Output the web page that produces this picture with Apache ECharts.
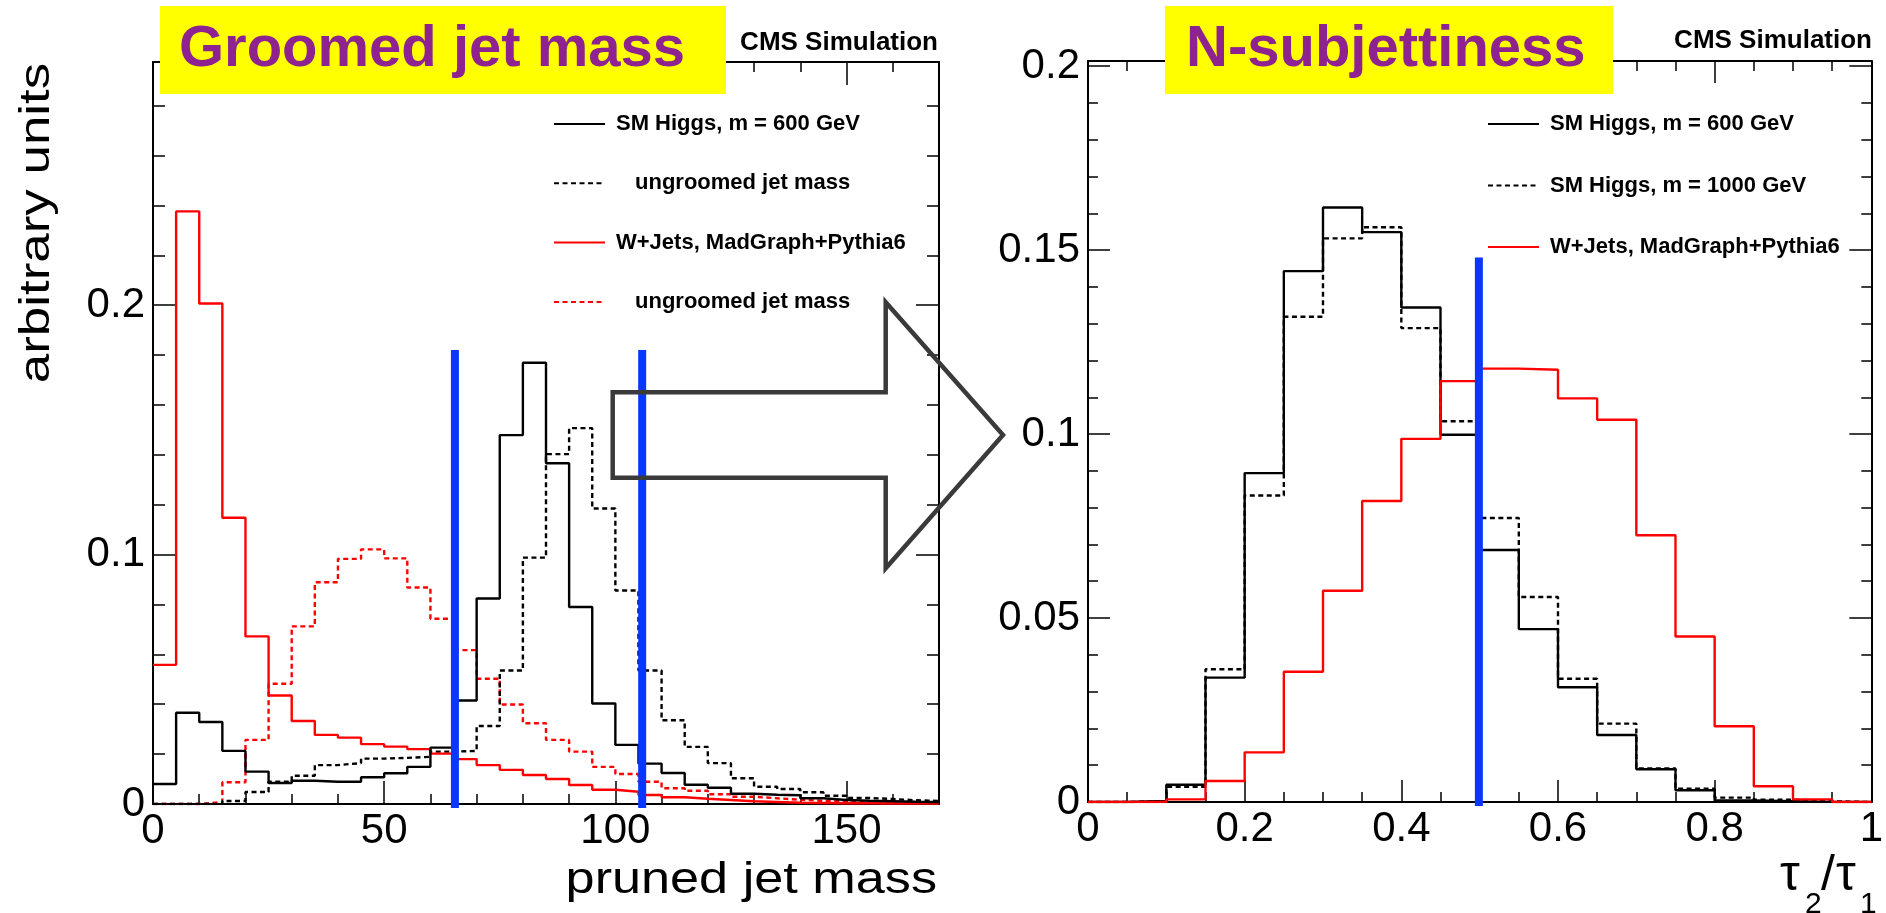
<!DOCTYPE html>
<html>
<head>
<meta charset="utf-8">
<title>Groomed jet mass / N-subjettiness</title>
<script src="https://cdn.jsdelivr.net/npm/echarts@6/dist/echarts.min.js"></script>
<style>
html, body { margin: 0; padding: 0; background: #fff; }
#chart { width: 1886px; height: 913px; }
</style>
</head>
<body>
<div id="chart"></div>
<script>
// ---- left pad: pruned jet mass, 34 bins of width 5 (0 .. 170)
const massBinWidth = 5
const higgsPruned = [0.0080, 0.0366, 0.0329, 0.0213, 0.0130, 0.0084, 0.0093, 0.0089, 0.0089, 0.0107,
  0.0123, 0.0149, 0.0226, 0.0415, 0.0824, 0.1479, 0.1769, 0.1366, 0.0790, 0.0403,
  0.0237, 0.0162, 0.0124, 0.0077, 0.0065, 0.0041, 0.0037, 0.0035, 0.0023, 0.0016,
  0.0013, 0.0011, 0.0009, 0.0008]
const higgsUngroomed = [0, 0, 0, 0.0012, 0.0048, 0.0089, 0.0113, 0.0156, 0.0164, 0.0182,
  0.0185, 0.0189, 0.0210, 0.0213, 0.0313, 0.0535, 0.0988, 0.1403, 0.1507, 0.1185,
  0.0856, 0.0535, 0.0336, 0.0229, 0.0164, 0.0103, 0.0069, 0.0060, 0.0047, 0.0033,
  0.0024, 0.0020, 0.0015, 0.0012]
const wjetsPruned = [0.0558, 0.2376, 0.2007, 0.1148, 0.0672, 0.0435, 0.0333, 0.0277, 0.0266, 0.0240,
  0.0230, 0.0220, 0.0202, 0.0180, 0.0156, 0.0137, 0.0116, 0.0100, 0.0076, 0.0057,
  0.0049, 0.0036, 0.0027, 0.0021, 0.0016, 0.0011, 0.0008, 0.0005, 0.0004, 0.0003,
  0.0003, 0.0002, 0.0002, 0.0002]
const wjetsUngroomed = [0, 0, 0.0008, 0.0087, 0.0257, 0.0482, 0.0712, 0.0889, 0.0983, 0.1021,
  0.0985, 0.0868, 0.0743, 0.0617, 0.0502, 0.0399, 0.0324, 0.0257, 0.0210, 0.0149,
  0.0120, 0.0089, 0.0063, 0.0053, 0.0039, 0.0029, 0.0023, 0.0017, 0.0013, 0.0011,
  0.0008, 0.0007, 0.0005, 0.0005]
const massCuts = [65.3, 105.8]
const massCutTop = 0.182

// ---- right pad: tau2/tau1, 20 bins of width 0.05 (0 .. 1)
const tauBinWidth = 0.05
const higgs600Tau = [0, 0.0003, 0.0047, 0.0338, 0.0894, 0.1443, 0.1616, 0.1549, 0.1344, 0.0998,
  0.0685, 0.0470, 0.0312, 0.0182, 0.0089, 0.0032, 0.0004, 0.0002, 0, 0]
const higgs1000Tau = [0, 0.0002, 0.0041, 0.0361, 0.0833, 0.1319, 0.1532, 0.1562, 0.1288, 0.1035,
  0.0772, 0.0557, 0.0335, 0.0213, 0.0091, 0.0036, 0.0012, 0.0006, 0.0002, 0]
const wjetsTau = [0, 0, 0.0007, 0.0057, 0.0135, 0.0354, 0.0574, 0.0818, 0.0987, 0.1144,
  0.1178, 0.1175, 0.1097, 0.1039, 0.0725, 0.0450, 0.0206, 0.0043, 0.0007, 0]
const tauCuts = [0.499]
const tauCutTop = 0.148

// ---- legend labels
const legendLabels = {
  'higgs pruned': 'SM Higgs, m = 600 GeV',
  'higgs ungroomed': 'ungroomed jet mass',
  'wjets pruned': 'W+Jets, MadGraph+Pythia6',
  'wjets ungroomed': 'ungroomed jet mass',
  'higgs 600': 'SM Higgs, m = 600 GeV',
  'higgs 1000': 'SM Higgs, m = 1000 GeV',
  'wjets tau': 'W+Jets, MadGraph+Pythia6'
}
const indented = ['higgs ungroomed', 'wjets ungroomed']

const FONT = '"Liberation Sans", Arial, Helvetica, sans-serif'
const BLUE = '#0a37ff'
const DASH = [5, 3.5]

function histPoints (values, width) {
  const pts = values.map((v, i) => [i * width, v])
  pts.push([values.length * width, values[values.length - 1]])
  return pts
}

function histSeries (name, values, width, color, dashed, axis) {
  return {
    name: name,
    type: 'line',
    step: 'end',
    symbol: 'none',
    xAxisIndex: axis,
    yAxisIndex: axis,
    data: histPoints(values, width),
    lineStyle: { color: color, width: 2.4, type: dashed ? DASH : 'solid' },
    itemStyle: { color: color },
    z: 3
  }
}

function cutSeries (x, top, axis) {
  return {
    type: 'line',
    symbol: 'none',
    xAxisIndex: axis,
    yAxisIndex: axis,
    data: [[x, -0.002], [x, top]],
    lineStyle: { color: BLUE, width: 8, cap: 'butt' },
    z: 5
  }
}

// ROOT style frame: minor + major ticks on both sides, pointing inward
function frameAxes (gridIndex, sides, min, max, minorStep, majorStep, minorLen, majorLen, fmt, margin) {
  const out = []
  sides.forEach((pos, k) => {
    out.push({
      gridIndex: gridIndex,
      type: 'value',
      position: pos,
      min: min,
      max: max,
      interval: minorStep,
      axisLine: { show: true, onZero: false, lineStyle: { color: '#000', width: 2 } },
      axisTick: { show: true, inside: true, length: minorLen, lineStyle: { color: '#000', width: 1.5 } },
      axisLabel: k === 0
        ? { show: true, formatter: fmt, fontSize: 42, fontFamily: FONT, color: '#000', margin: margin, showMinLabel: true, showMaxLabel: true }
        : { show: false },
      splitLine: { show: false }
    })
    out.push({
      gridIndex: gridIndex,
      type: 'value',
      position: pos,
      min: min,
      max: max,
      interval: majorStep,
      axisLine: { show: false, onZero: false },
      axisTick: { show: true, inside: true, length: majorLen, lineStyle: { color: '#000', width: 1.5 } },
      axisLabel: { show: false },
      splitLine: { show: false }
    })
  })
  return out
}

function stepLabel (step, digits) {
  return function (v) {
    const k = Math.round(v / step)
    if (Math.abs(v / step - k) > 1e-6) return ''
    return String(+(k * step).toFixed(digits))
  }
}

function legendFormatter (name) {
  const tag = indented.indexOf(name) >= 0 ? 'i' : 'n'
  return '{' + tag + '|' + legendLabels[name] + '}'
}

const legendText = {
  color: '#000',
  rich: {
    n: { fontSize: 22, fontWeight: 'bold', fontFamily: FONT, color: '#000', padding: [0, 0, 0, 6] },
    i: { fontSize: 22, fontWeight: 'bold', fontFamily: FONT, color: '#000', padding: [0, 0, 0, 25] }
  }
}

function label (text, x, y, size, opts) {
  return Object.assign({
    type: 'text', z: 51, x: x, y: y,
    style: { text: text, fill: '#000', font: size + 'px ' + FONT, align: 'left', verticalAlign: 'middle' }
  }, opts || {})
}

const xAxes = [].concat(
  frameAxes(0, ['bottom', 'top'], 0, 170, 10, 50, 10, 23, stepLabel(50, 0), 6),
  frameAxes(1, ['bottom', 'top'], 0, 1, 0.05, 0.2, 10, 22, stepLabel(0.2, 1), 6)
)
const yAxes = [].concat(
  frameAxes(0, ['left', 'right'], 0, 0.2975, 0.02, 0.1, 12, 23, stepLabel(0.1, 1), 8),
  frameAxes(1, ['left', 'right'], 0, 0.2014, 0.01, 0.05, 10, 22, stepLabel(0.05, 2), 8)
)

const option = {
  animation: false,
  backgroundColor: '#fff',
  grid: [
    { left: 153, top: 62, width: 786, height: 742 },
    { left: 1088, top: 61, width: 784, height: 741 }
  ],
  xAxis: xAxes,
  yAxis: yAxes,
  legend: [
    {
      data: ['higgs pruned', 'higgs ungroomed', 'wjets pruned', 'wjets ungroomed'],
      left: 548,
      top: 108,
      orient: 'vertical',
      itemWidth: 51,
      itemHeight: 22,
      itemGap: 37.3,
      selectedMode: false,
      itemStyle: { opacity: 0 },
      formatter: legendFormatter,
      textStyle: legendText
    },
    {
      data: ['higgs 600', 'higgs 1000', 'wjets tau'],
      left: 1482,
      top: 108,
      orient: 'vertical',
      itemWidth: 51,
      itemHeight: 22,
      itemGap: 39.5,
      selectedMode: false,
      itemStyle: { opacity: 0 },
      formatter: legendFormatter,
      textStyle: legendText
    }
  ],
  series: [
    histSeries('wjets ungroomed', wjetsUngroomed, massBinWidth, '#ff0000', true, 0),
    histSeries('higgs ungroomed', higgsUngroomed, massBinWidth, '#000000', true, 0),
    histSeries('wjets pruned', wjetsPruned, massBinWidth, '#ff0000', false, 0),
    histSeries('higgs pruned', higgsPruned, massBinWidth, '#000000', false, 0),
    histSeries('higgs 1000', higgs1000Tau, tauBinWidth, '#000000', true, 4),
    histSeries('higgs 600', higgs600Tau, tauBinWidth, '#000000', false, 4),
    histSeries('wjets tau', wjetsTau, tauBinWidth, '#ff0000', false, 4)
  ].concat(
    massCuts.map(x => cutSeries(x, massCutTop, 0)),
    tauCuts.map(x => cutSeries(x, tauCutTop, 4))
  ),
  graphic: {
    elements: [
      { type: 'rect', z: 50, shape: { x: 160, y: 6, width: 566, height: 88 }, style: { fill: '#ffff00' } },
      { type: 'rect', z: 50, shape: { x: 1165, y: 6, width: 448, height: 88 }, style: { fill: '#ffff00' } },
      {
        type: 'text', z: 51, x: 179, y: 50,
        style: { text: 'Groomed jet mass', fill: '#8e2290', font: 'bold 58px ' + FONT, align: 'left', verticalAlign: 'middle' }
      },
      {
        type: 'text', z: 51, x: 1186, y: 50,
        style: { text: 'N-subjettiness', fill: '#8e2290', font: 'bold 58px ' + FONT, align: 'left', verticalAlign: 'middle' }
      },
      {
        type: 'text', z: 51, x: 938, y: 43,
        style: { text: 'CMS Simulation', fill: '#000', font: 'bold 26px ' + FONT, align: 'right', verticalAlign: 'middle' }
      },
      {
        type: 'text', z: 51, x: 1872, y: 41,
        style: { text: 'CMS Simulation', fill: '#000', font: 'bold 26px ' + FONT, align: 'right', verticalAlign: 'middle' }
      },
      {
        type: 'text', z: 51, x: 937, y: 881, scaleX: 1.16,
        style: { text: 'pruned jet mass', fill: '#000', font: '45px ' + FONT, align: 'right', verticalAlign: 'middle' }
      },
      {
        type: 'text', z: 51, x: 37, y: 223, rotation: Math.PI / 2, scaleX: 1.26,
        style: { text: 'arbitrary units', fill: '#000', font: '42px ' + FONT, align: 'center', verticalAlign: 'middle' }
      },
      // tau2/tau1 axis title, built from pieces for the subscripts
      label('τ', 1780, 876, 50),
      label('2', 1805, 905, 30),
      label('/', 1821, 876, 50),
      label('τ', 1836, 876, 50),
      label('1', 1860, 905, 30),
      {
        // arrow from the mass window to the N-subjettiness pad
        type: 'polygon', z: 52,
        shape: {
          points: [[612.7, 392.3], [885.7, 392.3], [885.7, 302.3], [1003, 435],
            [885.7, 568.3], [885.7, 477.7], [612.7, 477.7]]
        },
        style: { fill: 'none', stroke: '#3a3a3a', lineWidth: 4.5, lineJoin: 'miter' }
      }
    ]
  }
}

const chart = echarts.init(document.getElementById('chart'), null, { renderer: 'canvas' })
chart.setOption(option)
</script>
</body>
</html>
